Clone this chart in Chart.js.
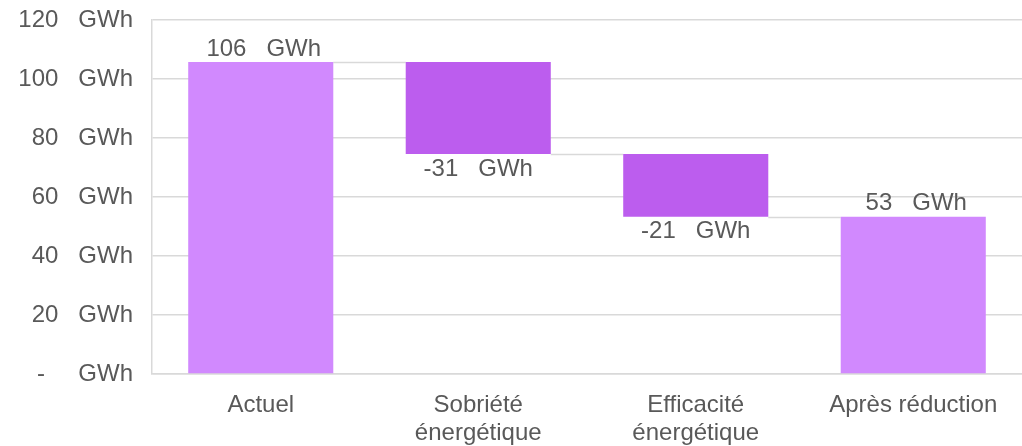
<!DOCTYPE html>
<html lang="fr">
<head>
<meta charset="utf-8">
<script src="https://cdn.jsdelivr.net/npm/chart.js@4"></script>
<style>
    html, body { margin: 0; padding: 0; background: #fff; }
    #wrap { width: 1022px; height: 446px; }
</style>
</head>
<body>
<div id="wrap"><canvas id="waterfall"></canvas></div>
<script>
// catégories et valeurs
const categories = [['Actuel'], ['Sobriété', 'énergétique'], ['Efficacité', 'énergétique'], ['Après réduction']];
const values = [105.8, -31.2, -21.3, 53.3];
const kinds = ['total', 'delta', 'delta', 'total'];
const yTicks = [0, 20, 40, 60, 80, 100, 120];

const totalColor = '#D189FE';
const deltaColor = '#BC5DEE';
const gridColor = '#D9D9D9';
const textColor = '#595959';
const fontFamily = '"Liberation Sans", Arial, sans-serif';

// barres flottantes : totals depuis 0, variations depuis le niveau courant
let level = 0;
const ranges = [];
const levels = [];
values.forEach((v, i) => {
    if (kinds[i] === 'total') {
        level = v;
        ranges.push([0, v]);
    } else {
        ranges.push([level + v, level]);
        level = level + v;
    }
    levels.push(level);
});

const fmt = v => (Math.round(v) === 0 ? '-     ' : Math.round(v) + '   ') + 'GWh';

const waterfallExtras = {
    id: 'waterfallExtras',
    beforeDatasetsDraw(chart) {
        const ctx = chart.ctx;
        const meta = chart.getDatasetMeta(0);
        const y = chart.scales.y;
        ctx.save();
        ctx.strokeStyle = gridColor;
        ctx.lineWidth = 1.5;
        for (let i = 0; i < meta.data.length - 1; i++) {
            const a = meta.data[i], b = meta.data[i + 1];
            const py = Math.round(y.getPixelForValue(levels[i])) + 0.5;
            ctx.beginPath();
            ctx.moveTo(a.x + a.width / 2, py);
            ctx.lineTo(b.x - b.width / 2, py);
            ctx.stroke();
        }
        ctx.restore();
    },
    afterDatasetsDraw(chart) {
        const ctx = chart.ctx;
        const meta = chart.getDatasetMeta(0);
        ctx.save();
        ctx.font = '24px ' + fontFamily;
        ctx.fillStyle = textColor;
        ctx.textAlign = 'center';
        meta.data.forEach((el, i) => {
            const top = Math.min(el.y, el.base);
            const bottom = Math.max(el.y, el.base);
            if (kinds[i] === 'total') {
                ctx.textBaseline = 'bottom';
                ctx.fillText(fmt(values[i]), el.x + 3, top - 1);
            } else {
                ctx.textBaseline = 'top';
                ctx.fillText(fmt(values[i]), el.x, bottom + 3);
            }
        });
        ctx.restore();
    }
};

new Chart(document.getElementById('waterfall'), {
    type: 'bar',
    data: {
        labels: categories,
        datasets: [{
            data: ranges,
            backgroundColor: kinds.map(k => k === 'total' ? totalColor : deltaColor),
            borderWidth: 0,
            barPercentage: 0.667,
            categoryPercentage: 1
        }]
    },
    options: {
        responsive: true,
        maintainAspectRatio: false,
        animation: false,
        layout: { padding: { top: 20, right: 0, left: 0, bottom: 0 } },
        plugins: {
            legend: { display: false },
            tooltip: { enabled: false }
        },
        scales: {
            x: {
                grid: { display: false, drawTicks: false },
                border: { color: gridColor, width: 1.5 },
                ticks: {
                    color: textColor,
                    font: { family: fontFamily, size: 24, lineHeight: 1.15 },
                    padding: 18,
                    maxRotation: 0,
                    autoSkip: false
                },
                afterFit: s => { s.height = 72; }
            },
            y: {
                min: 0,
                max: 120,
                afterBuildTicks: s => { s.ticks = yTicks.map(v => ({ value: v })); },
                grid: { color: gridColor, lineWidth: 1.5, drawTicks: false },
                border: { color: gridColor, width: 1.5 },
                ticks: {
                    color: textColor,
                    font: { family: fontFamily, size: 24 },
                    padding: 19,
                    callback: v => fmt(v)
                },
                afterFit: s => { s.width = 152; s.paddingTop = 0; s.paddingBottom = 0; }
            }
        }
    },
    plugins: [waterfallExtras]
});
</script>
</body>
</html>
